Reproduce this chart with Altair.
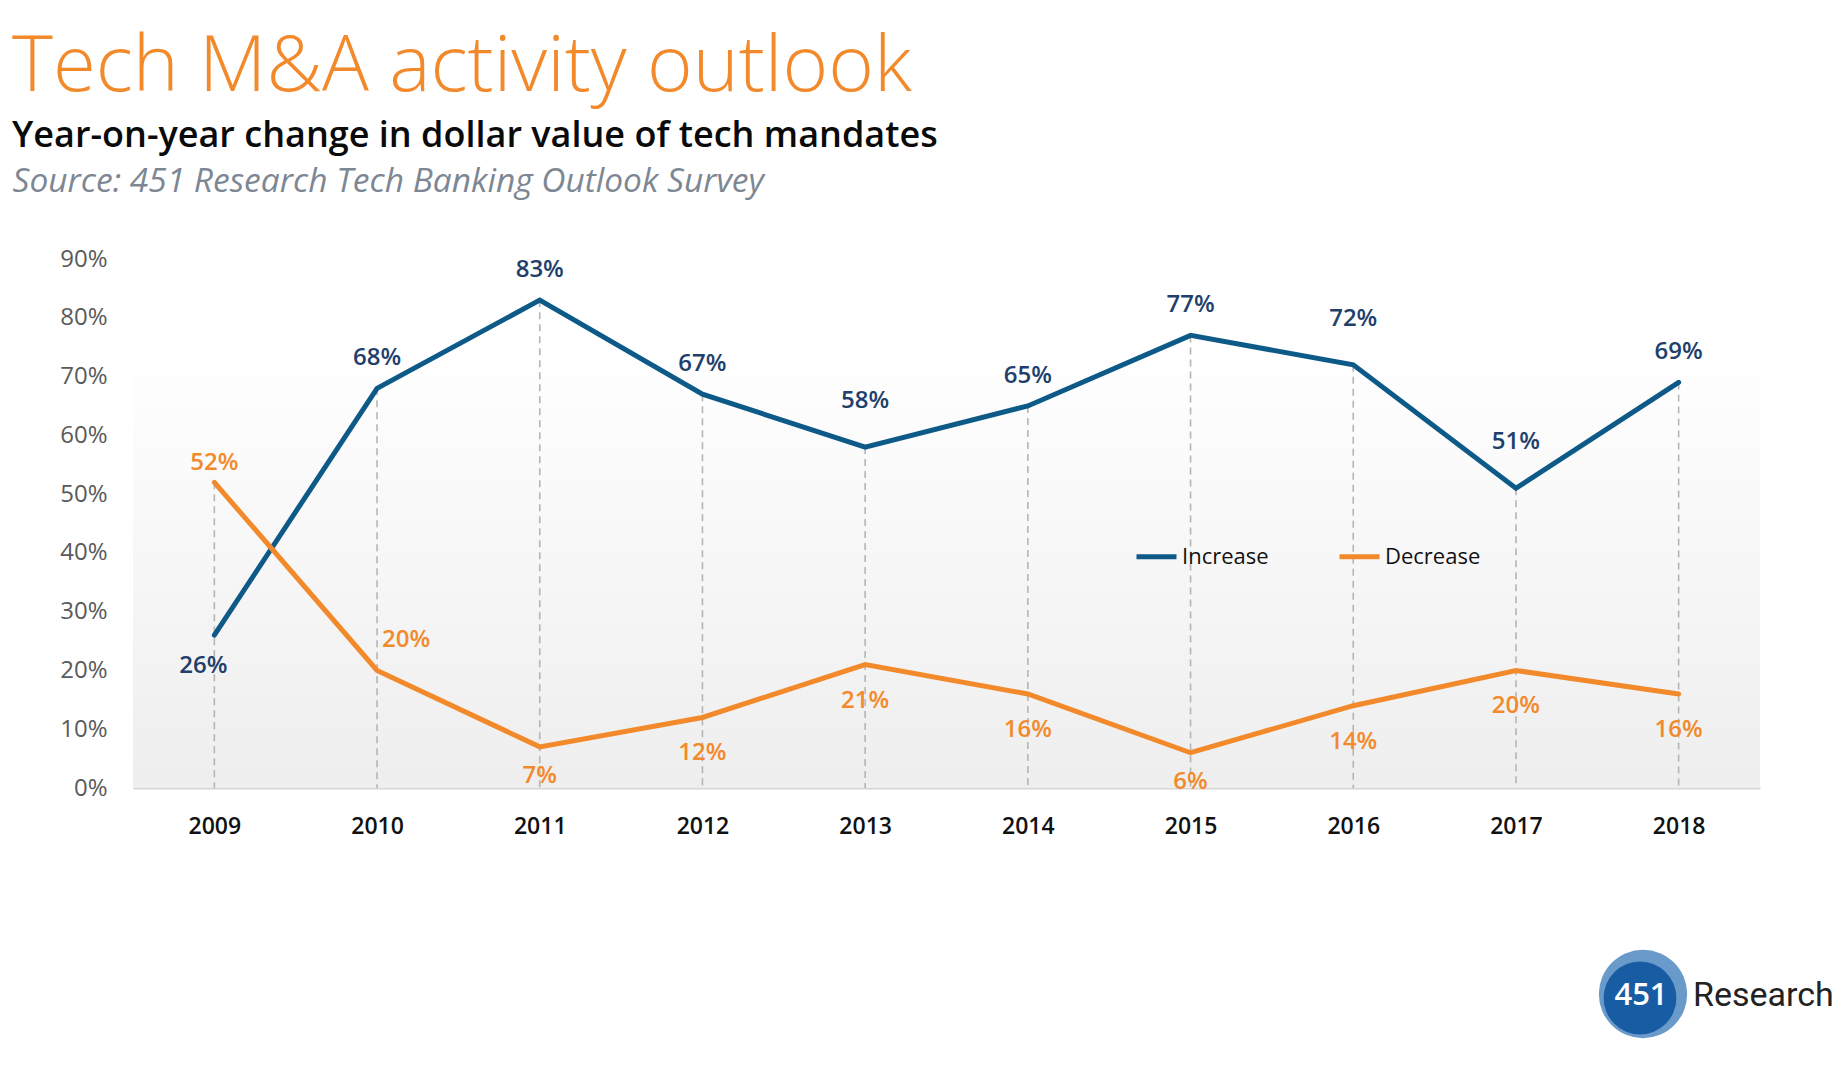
import altair as alt
import pandas as pd

years = ["2009", "2010", "2011", "2012", "2013", "2014", "2015", "2016", "2017", "2018"]
increase = [26, 68, 83, 67, 58, 65, 77, 72, 51, 69]
decrease = [52, 20, 7, 12, 21, 16, 6, 14, 20, 16]
inc_place = ["below", "above", "above", "above", "higher", "above", "above", "higher", "higher", "above"]
dec_place = ["above", "aboveright", "belowtight", "below", "below", "below", "belowtight", "below", "below", "below"]
y_ticks = [0, 10, 20, 30, 40, 50, 60, 70, 80, 90]

TITLE = "Tech M&A activity outlook"
SUBTITLE = "Year-on-year change in dollar value of tech mandates"
SOURCE = "Source: 451 Research Tech Banking Outlook Survey"

BLUE = "#0d5a88"
BLUE_TXT = "#223f6c"
ORANGE = "#f28a2c"
FONT = "Open Sans"

rows = []
for i, yr in enumerate(years):
    rows.append({"year": yr, "series": "Increase", "value": increase[i], "place": inc_place[i],
                 "label": f"{increase[i]}%"})
    rows.append({"year": yr, "series": "Decrease", "value": decrease[i], "place": dec_place[i],
                 "label": f"{decrease[i]}%"})
df = pd.DataFrame(rows)
drop = pd.DataFrame({"year": years, "top": [max(a, b) for a, b in zip(increase, decrease)]})

W, H = 1627, 529

xenc = alt.X("year:O", scale=alt.Scale(type="point", padding=0.5), sort=years,
             axis=alt.Axis(title=None, labelAngle=0, labelFont=FONT, labelFontSize=23,
                           labelFontWeight=600, labelColor="#111111", labelPadding=27,
                           ticks=False, domainColor="#d6d6d6", domainWidth=2))
yscale = alt.Scale(domain=[0, 90], nice=False)
yaxis = alt.Axis(values=y_ticks, labelExpr="datum.value + '%'", labelFont=FONT, labelFontSize=24,
                 labelColor="#5a5a5a", labelPadding=26, ticks=False, domain=False, grid=False,
                 title=SOURCE, titleAngle=0, titleAlign="left", titleBaseline="alphabetic",
                 titleX=-121, titleY=-68, titleFont=FONT, titleFontSize=33.5, titleFontStyle="italic",
                 titleFontWeight=400, titleColor="#7d8793")

bg = alt.Chart(pd.DataFrame({"a": [0]})).mark_rect(
    color=alt.LinearGradient(gradient="linear", x1=0, x2=0, y1=0, y2=1,
                             stops=[alt.GradientStop(offset=0, color="#ffffff"),
                                    alt.GradientStop(offset=1, color="#eeeeee")])
).encode(x=alt.value(0), x2=alt.value(W), y=alt.Y(datum=75, type="quantitative", scale=yscale, axis=yaxis),
         y2=alt.Y2(datum=0))

rules = alt.Chart(drop).mark_rule(color="#b5b5b5", strokeDash=[7, 5], strokeWidth=1.6).encode(
    x=xenc, y=alt.Y("top:Q", scale=yscale), y2=alt.Y2(datum=0))

color = alt.Color("series:N", scale=alt.Scale(domain=["Increase", "Decrease"], range=[BLUE, ORANGE]),
                  legend=alt.Legend(title=None, orient="none", legendX=1001, legendY=275,
                                    direction="horizontal", symbolType="stroke", symbolSize=1600,
                                    symbolStrokeWidth=5, labelFont=FONT, labelFontSize=22,
                                    labelColor="#111111", labelOffset=3, columnPadding=60))

lines = alt.Chart(df).mark_line(strokeWidth=5, strokeCap="round").encode(
    x=xenc, y=alt.Y("value:Q", scale=yscale), color=color, detail="series:N")

def labels(series, place, dy, dx, col):
    return alt.Chart(df).transform_filter(
        (alt.datum.series == series) & (alt.datum.place == place)
    ).mark_text(font=FONT, fontSize=24, fontWeight=600, dy=dy, dx=dx, color=col).encode(
        x=xenc, y=alt.Y("value:Q", scale=yscale), text="label:N")

texts = [
    labels("Increase", "above", -30, 0, BLUE_TXT),
    labels("Increase", "higher", -46, 0, BLUE_TXT),
    labels("Increase", "below", 31, -11, BLUE_TXT),
    labels("Decrease", "above", -19, 0, ORANGE),
    labels("Decrease", "aboveright", -30, 29, ORANGE),
    labels("Decrease", "below", 36, 0, ORANGE),
    labels("Decrease", "belowtight", 29, 0, ORANGE),
]

logo_c1 = alt.Chart(pd.DataFrame({"a": [0]})).mark_point(
    shape="circle", filled=True, size=7800, color="#4f88c0", opacity=0.85
).encode(x=alt.value(1510), y=alt.value(735))
logo_c2 = alt.Chart(pd.DataFrame({"a": [0]})).mark_point(
    shape="circle", filled=True, size=5300, color="#0f55a0", opacity=0.9
).encode(x=alt.value(1507), y=alt.value(739))
logo_t1 = alt.Chart(pd.DataFrame({"t": ["451"]})).mark_text(
    font=FONT, fontSize=31, fontWeight=600, color="white"
).encode(x=alt.value(1508), y=alt.value(737), text="t:N")
logo_t2 = alt.Chart(pd.DataFrame({"t": ["Research"]})).mark_text(
    font="Roboto", fontSize=34, fontWeight=400, color="#222222", align="left"
).encode(x=alt.value(1560), y=alt.value(737), text="t:N")

chart = alt.layer(bg, rules, lines, *texts, logo_c1, logo_c2, logo_t1, logo_t2).properties(
    width=W, height=H,
    background="white",
    autosize=alt.AutoSizeParams(type="none"),
    padding={"left": 125, "top": 251, "right": 75, "bottom": 260},
    title=alt.TitleParams(TITLE, subtitle=SUBTITLE, anchor="start", frame="group", dx=-121, dy=-6,
                          font=FONT, fontSize=78, fontWeight=300, color="#f28a2c",
                          subtitleFont=FONT, subtitleFontSize=36, subtitleFontWeight=600,
                          subtitleColor="#0a0a0a", subtitlePadding=12),
).configure_view(stroke=None)

chart.save("out.html", embed_options={"renderer": "svg", "actions": False})
